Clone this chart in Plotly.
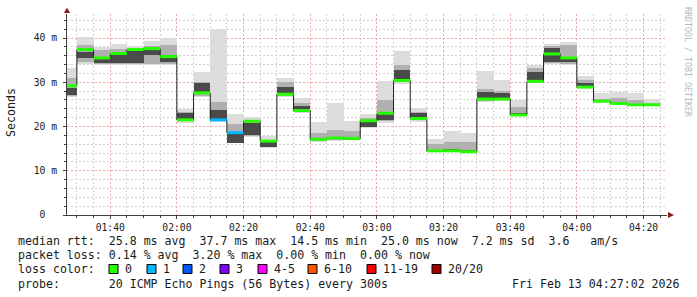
import plotly.graph_objects as go
import pandas as pd

# ---------------- data ----------------
interval_start = ["01:25", "01:30", "01:35", "01:40", "01:45", "01:50", "01:55",
                  "02:00", "02:05", "02:10", "02:15", "02:20", "02:25", "02:30",
                  "02:35", "02:40", "02:45", "02:50", "02:55", "03:00", "03:05",
                  "03:10", "03:15", "03:20", "03:25", "03:30", "03:35", "03:40",
                  "03:45", "03:50", "03:55", "04:00", "04:05", "04:10", "04:15",
                  "04:20"]
median_ms = [29.2, 37.4, 35.5, 36.5, 37.4, 37.6, 35.8, 21.5, 27.6, 21.5, 18.6, 21.2,
             16.7, 27.3, 23.6, 17.1, 17.4, 17.3, 21.3, 23.0, 30.4, 21.8, 14.5, 14.5,
             14.3, 26.2, 26.2, 22.6, 30.2, 36.4, 35.5, 28.9, 25.7, 25.2, 24.9, 24.9]
loss_pings = [0, 0, 0, 0, 0, 0, 0, 0, 0, 1, 1, 0, 0, 0, 0, 0, 0, 0, 0, 0, 0, 0, 0, 0,
              0, 0, 0, 0, 0, 0, 0, 0, 0, 0, 0, 0]
smoke_min = [26.7, 34.1, 33.9, 33.9, 33.9, 33.9, 33.9, 20.9, 26.7, 21.1, 16.2, 17.7,
             15.2, 26.7, 23.0, 16.6, 16.8, 16.9, 19.6, 20.9, 29.5, 21.1, 14.2, 14.3,
             14.2, 25.5, 25.8, 22.4, 30.0, 34.1, 33.9, 28.6, 25.5, 25.0, 24.7, 24.7]
smoke_max = [33.3, 40.2, 38.0, 38.7, 38.2, 39.4, 40.0, 24.0, 32.4, 42.0, 22.8, 22.2,
             17.9, 31.0, 26.5, 21.1, 25.4, 21.2, 22.9, 30.3, 37.1, 24.1, 17.2, 19.0,
             18.5, 32.5, 30.5, 26.0, 33.9, 38.6, 39.2, 31.5, 27.6, 27.9, 27.5, 26.2]
mid_lo = [27.0, 34.5, 34.1, 34.1, 34.1, 34.1, 34.1, 21.2, 27.0, 21.3, 16.4, 17.9,
          15.3, 26.9, 23.2, 16.8, 17.0, 17.0, 19.8, 21.2, 30.0, 21.4, 14.3, 14.4,
          14.3, 25.8, 26.0, 22.6, 30.2, 34.4, 34.2, 28.8, 25.6, 25.1, 24.8, 24.8]
mid_hi = [31.0, 38.5, 37.3, 37.5, 37.8, 38.3, 38.5, 23.2, 30.0, 25.6, 20.5, 21.5,
          17.0, 30.0, 25.2, 18.6, 19.2, 19.0, 22.0, 26.0, 34.0, 23.2, 16.0, 16.5,
          16.5, 28.5, 28.0, 24.5, 33.2, 38.2, 38.4, 30.5, 26.2, 26.5, 26.0, 25.2]
core_lo = [27.1, 35.4, 34.3, 34.3, 34.3, 36.2, 34.6, 21.5, 27.5, 21.5, 16.2, 18.1,
           15.4, 27.1, 23.3, 16.9, 17.1, 17.1, 20.0, 21.5, 30.5, 21.9, 14.4, 14.5,
           14.3, 26.0, 26.4, 22.6, 30.3, 34.6, 34.6, 28.9, 25.6, 25.1, 24.8, 24.8]
core_hi = [28.7, 36.9, 35.4, 36.5, 37.3, 37.4, 36.2, 23.0, 29.8, 23.7, 18.5, 20.7,
           16.6, 29.0, 24.6, 17.4, 17.6, 17.5, 21.5, 23.3, 32.8, 23.0, 14.8, 14.9,
           14.7, 27.9, 27.5, 23.0, 32.4, 37.7, 35.8, 29.8, 25.9, 25.4, 25.1, 25.0]

loss_labels = ["0", "1", "2", "3", "4-5", "6-10", "11-19", "20/20"]
loss_colors = ["#26ff00", "#00b8ff", "#0059ff", "#7e00ff", "#ff00ff", "#ff5500",
               "#ff0000", "#a10000"]

y_ticks = [0, 10, 20, 30, 40]
y_ticktext = ["0\u00a0\u00a0", "10 m", "20 m", "30 m", "40 m"]

stats_line1 = "median rtt:  25.8 ms avg  37.7 ms max  14.5 ms min  25.0 ms now  7.2 ms sd  3.6   am/s"
stats_line2 = "packet loss: 0.14 % avg  3.20 % max  0.00 % min  0.00 % now"
probe_line = "probe:       20 ICMP Echo Pings (56 Bytes) every 300s"
date_text = "Fri Feb 13 04:27:02 2026"
watermark = "RRDTOOL / TOBI OETIKER"

# ---------------- geometry ----------------
W, H = 697, 297
L, R, T, B = 67, 667, 14, 215
DAY = "2026-02-13 "
STEP = pd.Timedelta(minutes=5)
MONO = "DejaVu Sans Mono"


def px(xp):
    return (xp - L) / (R - L)


def py(yp):
    return (B - yp) / (B - T)


def nb(s):
    return s.replace(" ", "\u00a0")


starts = [pd.Timestamp(DAY + t) for t in interval_start]
ends = [s + STEP for s in starts]

fig = go.Figure()

# smoke layers
for lo, hi, col in [(smoke_min, smoke_max, "#dcdcdc"),
                    (mid_lo, mid_hi, "#b0b0b0"),
                    (core_lo, core_hi, "#4a4a4a")]:
    fig.add_trace(go.Bar(
        x=starts, y=[h - l for l, h in zip(lo, hi)], base=lo,
        width=[300000] * len(starts), offset=0,
        marker=dict(color=col, line=dict(width=0)),
        hoverinfo="skip", showlegend=False))

# median step line
fig.add_trace(go.Scatter(
    x=starts + [ends[-1]], y=median_ms + [median_ms[-1]],
    mode="lines", line=dict(color="#1e1e1e", width=1, shape="hv"),
    hoverinfo="skip", showlegend=False))

# loss-coloured median segments
loss_bucket = {0: 0, 1: 1, 2: 2, 3: 3, 4: 4, 5: 4}
for k, col in enumerate(loss_colors):
    xs, ys = [], []
    for s, e, m, lp in zip(starts, ends, median_ms, loss_pings):
        b = loss_bucket.get(lp, 5 if lp <= 10 else (6 if lp < 20 else 7))
        if b == k:
            xs += [s, e, None]
            ys += [m, m, None]
    if xs:
        fig.add_trace(go.Scatter(x=xs, y=ys, mode="lines",
                                 line=dict(color=col, width=3),
                                 hoverinfo="skip", showlegend=False))

grid_minor = "#d2d2d2"
grid_major = "#e8a8a8"
axis_col = "#404040"

fig.update_layout(
    width=W, height=H,
    margin=dict(l=L, r=W - R, t=T, b=H - B, pad=0),
    paper_bgcolor="white", plot_bgcolor="white",
    barmode="overlay", bargap=0,
    font=dict(family=MONO, size=10, color="#1a1a1a"),
    xaxis=dict(
        type="date",
        range=[DAY + "01:27:02", DAY + "04:27:02"],
        tick0=DAY + "01:40", dtick=1200000, tickformat="%H:%M",
        showgrid=True, gridcolor=grid_major, griddash="2px,2px", gridwidth=1,
        ticks="outside", ticklen=3, tickcolor=axis_col,
        showline=True, linecolor=axis_col, linewidth=1,
        zeroline=False,
        tickfont=dict(family=MONO, size=9.7, color="#1a1a1a"),
        minor=dict(dtick=300000, tick0=DAY + "01:40", showgrid=True,
                   gridcolor=grid_minor, griddash="2px,2px", gridwidth=1,
                   ticks="outside", ticklen=2, tickcolor=axis_col),
    ),
    yaxis=dict(
        range=[0, (B - T) / 4.425],
        tickvals=y_ticks, ticktext=y_ticktext,
        showgrid=True, gridcolor=grid_major, griddash="2px,2px", gridwidth=1,
        ticks="outside", ticklen=3, tickcolor=axis_col,
        showline=True, linecolor=axis_col, linewidth=1,
        zeroline=False,
        ticklabelstandoff=4,
        tickfont=dict(family=MONO, size=9.7, color="#1a1a1a"),
        minor=dict(dtick=2, tick0=0, showgrid=True,
                   gridcolor=grid_minor, griddash="2px,2px", gridwidth=1,
                   ticks="outside", ticklen=2, tickcolor=axis_col),
    ),
)

shapes = []
# axis arrows
shapes.append(dict(type="path", xref="paper", yref="paper",
                   path=f"M {px(64)} {py(13)} L {px(70)} {py(13)} L {px(67)} {py(7.5)} Z",
                   fillcolor="#8b1c1c", line=dict(width=0)))
shapes.append(dict(type="path", xref="paper", yref="paper",
                   path=f"M {px(668)} {py(212)} L {px(668)} {py(218)} L {px(674)} {py(215)} Z",
                   fillcolor="#8b1c1c", line=dict(width=0)))

annotations = []
TXT = 11.6
annotations.append(dict(text="Seconds", textangle=-90, x=px(11), y=py(113),
                        xref="paper", yref="paper", showarrow=False,
                        xanchor="center", yanchor="middle",
                        font=dict(family=MONO, size=TXT, color="#1a1a1a")))
annotations.append(dict(text=nb(watermark), textangle=90, x=px(688), y=py(5),
                        xref="paper", yref="paper", showarrow=False,
                        xanchor="center", yanchor="top",
                        font=dict(family=MONO, size=8.3, color="#b8b8b8")))

for txt, yy in [(stats_line1, 241), (stats_line2, 255), (probe_line, 284)]:
    annotations.append(dict(text=nb(txt), x=px(16), y=py(yy), xref="paper", yref="paper",
                            showarrow=False, xanchor="left", yanchor="middle",
                            font=dict(family=MONO, size=TXT, color="#1a1a1a")))
annotations.append(dict(text=nb(date_text), x=px(682), y=py(284), xref="paper",
                        yref="paper", showarrow=False, xanchor="right", yanchor="middle",
                        font=dict(family=MONO, size=TXT, color="#1a1a1a")))
annotations.append(dict(text=nb("loss color:"), x=px(16), y=py(269), xref="paper",
                        yref="paper", showarrow=False, xanchor="left", yanchor="middle",
                        font=dict(family=MONO, size=TXT, color="#1a1a1a")))

box_x = [109, 147, 183, 220, 258, 308, 367, 432]
for bx, lab, col in zip(box_x, loss_labels, loss_colors):
    shapes.append(dict(type="rect", xref="paper", yref="paper",
                       x0=px(bx), x1=px(bx + 9), y0=py(273.5), y1=py(264.5),
                       fillcolor=col, line=dict(color="#000000", width=1)))
    annotations.append(dict(text=lab, x=px(bx + 14), y=py(269), xref="paper",
                            yref="paper", showarrow=False, xanchor="left",
                            yanchor="middle",
                            font=dict(family=MONO, size=TXT, color="#1a1a1a")))

fig.update_layout(shapes=shapes, annotations=annotations)
fig.write_html("out.html")
